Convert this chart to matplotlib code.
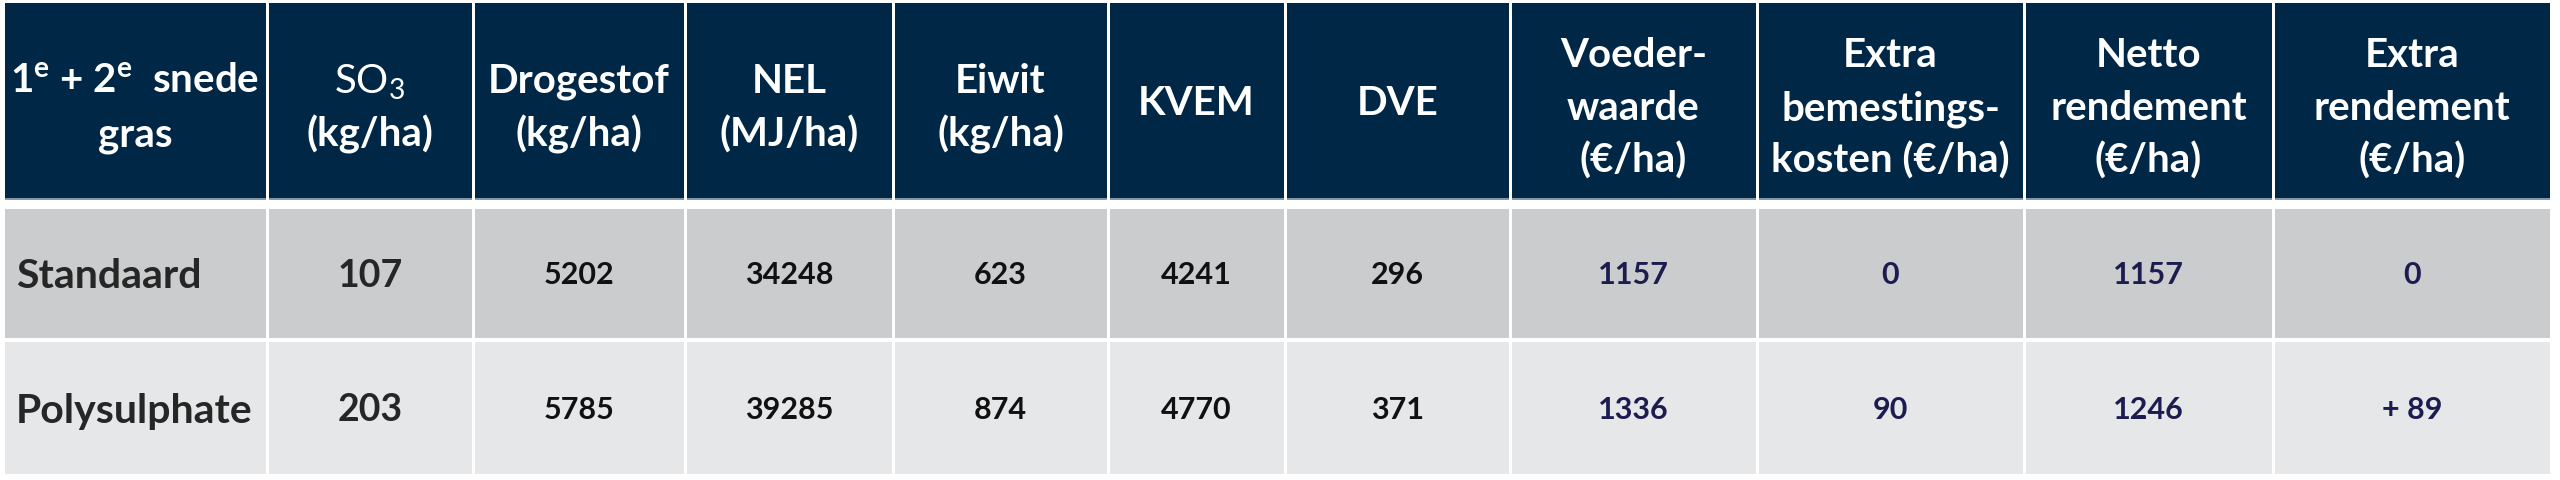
import matplotlib
matplotlib.use("Agg")
import matplotlib.pyplot as plt
from matplotlib import font_manager
from matplotlib.patches import Rectangle

# table content
row_labels = ["Standaard", "Polysulphate"]
so3 = [107, 203]
drogestof = [5202, 5785]
nel = [34248, 39285]
eiwit = [623, 874]
kvem = [4241, 4770]
dve = [296, 371]
voederwaarde = [1157, 1336]
extra_kosten = [0, 90]
netto_rendement = [1157, 1246]
extra_rendement = [0, 89]

headers = [
    [r"1$^{\mathbf{e}}$ + 2$^{\mathbf{e}}$  snede", "gras"],
    [r"SO$_{\mathrm{3}}$", "(kg/ha)"],
    ["Drogestof", "(kg/ha)"],
    ["NEL", "(MJ/ha)"],
    ["Eiwit", "(kg/ha)"],
    ["KVEM"],
    ["DVE"],
    ["Voeder-", "waarde", "(\u20ac/ha)"],
    ["Extra", "bemestings-", "kosten (\u20ac/ha)"],
    ["Netto", "rendement", "(\u20ac/ha)"],
    ["Extra", "rendement", "(\u20ac/ha)"],
]

# layout (pixels)
col_edges = [3, 267, 473, 685, 893, 1108, 1285, 1510, 1757, 2024, 2273, 2551]
head_top, head_bot = 3, 200
row_spans = [(209, 338), (342, 474)]
gap = 1.5

c_head = "#002846"
c_head_line = "#8497ab"
c_rows = ["#cbccce", "#e6e7e9"]
c_label = "#262626"
c_num = "#111111"
c_navy = "#1c1c50"

names = {f.name for f in font_manager.fontManager.ttflist}
base = "Lato" if "Lato" in names else "DejaVu Sans"
fam = [base, "DejaVu Sans"]
plt.rcParams["mathtext.fontset"] = "custom"
plt.rcParams["mathtext.rm"] = base
plt.rcParams["mathtext.bf"] = base + ":bold"

W, H = 2560, 480
fig = plt.figure(figsize=(W / 100, H / 100), dpi=100)
ax = fig.add_axes([0, 0, 1, 1])
ax.set_xlim(0, W)
ax.set_ylim(H, 0)
ax.axis("off")


def cap_px(size):
    return size * 100 / 72 * 0.716


# header cells
head_size = 29
for i in range(len(headers)):
    x0, x1 = col_edges[i] + gap, col_edges[i + 1] - gap
    ax.add_patch(Rectangle((x0, head_top), x1 - x0, head_bot - head_top,
                           facecolor=c_head, edgecolor="none"))
    ax.add_patch(Rectangle((x0, head_bot - 2), x1 - x0, 2,
                           facecolor=c_head_line, edgecolor="none"))
    xc = (x0 + x1) / 2
    lines = headers[i]
    if len(lines) == 3:
        baselines = [67, 120, 173]
    elif len(lines) == 1:
        baselines = [101 + cap_px(head_size) / 2]
    else:
        baselines = [93, 147]
    for k, (line, yb) in enumerate(zip(lines, baselines)):
        weight = "normal" if (i == 1 and k == 0) else "bold"
        ax.text(xc, yb, line, ha="center", va="baseline", color="white",
                fontsize=head_size, fontweight=weight, family=fam)

# body rows
columns = [so3, drogestof, nel, eiwit, kvem, dve,
           voederwaarde, extra_kosten, netto_rendement, extra_rendement]
for r, (y0, y1) in enumerate(row_spans):
    yc = (y0 + y1) / 2
    for i in range(len(headers)):
        x0, x1 = col_edges[i] + gap, col_edges[i + 1] - gap
        ax.add_patch(Rectangle((x0, y0), x1 - x0, y1 - y0,
                               facecolor=c_rows[r], edgecolor="none"))
    ax.text(col_edges[0] + 13, yc + cap_px(29.5) / 2, row_labels[r],
            ha="left", va="baseline", color=c_label, fontsize=29.5,
            fontweight="bold", family=fam)
    for j, col in enumerate(columns):
        i = j + 1
        xc = (col_edges[i] + col_edges[i + 1]) / 2
        val = col[r]
        if col is extra_rendement and val > 0:
            txt = f"+ {val}"
        else:
            txt = str(val)
        if i == 1:
            size, color = 27, c_label
        elif i <= 6:
            size, color = 22, c_num
        else:
            size, color = 22, c_navy
        ax.text(xc, yc + cap_px(size) / 2, txt, ha="center", va="baseline",
                color=color, fontsize=size, fontweight="bold", family=fam)

fig.savefig("out.png", dpi=100, facecolor="white")
